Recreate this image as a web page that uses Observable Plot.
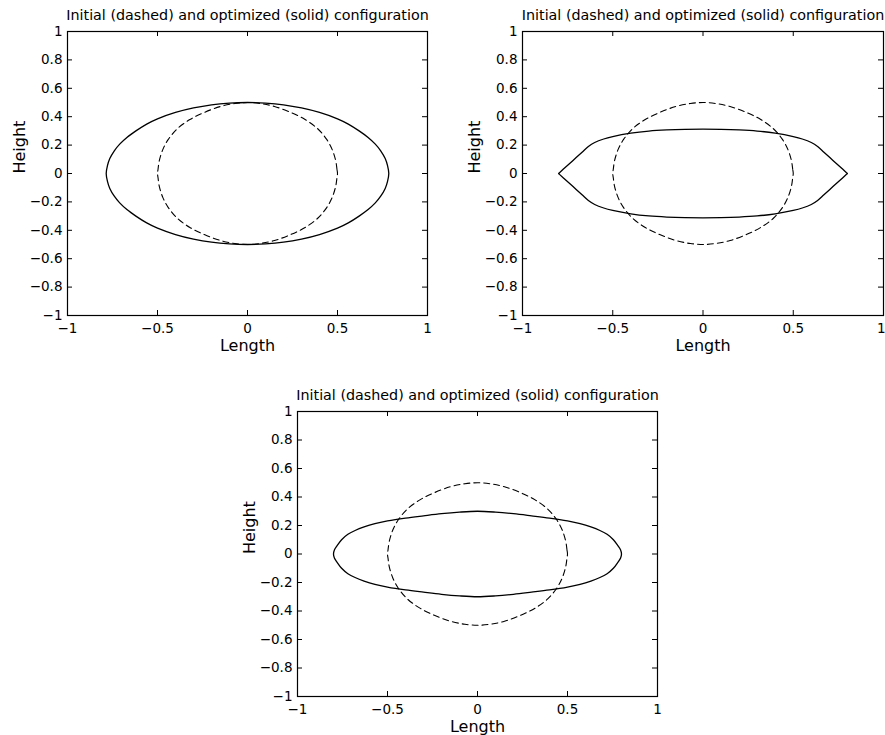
<!DOCTYPE html>
<html>
<head>
<meta charset="utf-8">
<script src="https://cdn.jsdelivr.net/npm/d3@7"></script>
<script src="https://cdn.jsdelivr.net/npm/@observablehq/plot@0.6"></script>
<style>
  html, body { margin: 0; padding: 0; background: white; }
  #wrap { position: relative; width: 885px; height: 735px; overflow: hidden; background: white; }
  .panel { position: absolute; }
  .panel svg { overflow: visible; }
</style>
</head>
<body>
<div id="wrap">
  <div class="panel" id="p1" style="left:0px;top:0px"></div>
  <div class="panel" id="p2" style="left:440px;top:0px"></div>
  <div class="panel" id="p3" style="left:200px;top:375px"></div>
</div>
<script>
const titleText = "Initial (dashed) and optimized (solid) configuration";
const xLabel = "Length";
const yLabel = "Height";
const xTicks = [-1, -0.5, 0, 0.5, 1];
const yTicks = [-1, -0.8, -0.6, -0.4, -0.2, 0, 0.2, 0.4, 0.6, 0.8, 1];

// Initial configuration (dashed), same in all three panels
const dashedX = [0.5, 0.497, 0.49, 0.47, 0.44, 0.39, 0.32, 0.24, 0.15, 0.07, 0,
  -0.07, -0.15, -0.24, -0.32, -0.39, -0.44, -0.47, -0.49, -0.497, -0.5,
  -0.497, -0.49, -0.47, -0.44, -0.39, -0.32, -0.24, -0.15, -0.07, 0,
  0.07, 0.15, 0.24, 0.32, 0.39, 0.44, 0.47, 0.49, 0.497];
const dashedY = [0, 0.03, 0.09, 0.17, 0.24, 0.315, 0.38, 0.43, 0.472, 0.493, 0.5,
  0.493, 0.472, 0.43, 0.38, 0.315, 0.24, 0.17, 0.09, 0.03, 0,
  -0.03, -0.09, -0.17, -0.24, -0.315, -0.38, -0.43, -0.472, -0.493, -0.5,
  -0.493, -0.472, -0.43, -0.38, -0.315, -0.24, -0.17, -0.09, -0.03];

// Optimized configuration, panel 1
const solid1X = [0.785, 0.778, 0.765, 0.74, 0.71, 0.67, 0.62, 0.56, 0.5, 0.4, 0.3, 0.2, 0.1, 0,
  -0.1, -0.2, -0.3, -0.4, -0.5, -0.56, -0.62, -0.67, -0.71, -0.74, -0.765, -0.778, -0.785,
  -0.778, -0.765, -0.74, -0.71, -0.67, -0.62, -0.56, -0.5, -0.4, -0.3, -0.2, -0.1, 0,
  0.1, 0.2, 0.3, 0.4, 0.5, 0.56, 0.62, 0.67, 0.71, 0.74, 0.765, 0.778];
const solid1Y = [0, 0.055, 0.105, 0.16, 0.207, 0.254, 0.30, 0.348, 0.385, 0.43, 0.462, 0.484, 0.496, 0.5,
  0.496, 0.484, 0.462, 0.43, 0.385, 0.348, 0.30, 0.254, 0.207, 0.16, 0.105, 0.055, 0,
  -0.055, -0.105, -0.16, -0.207, -0.254, -0.30, -0.348, -0.385, -0.43, -0.462, -0.484, -0.496, -0.5,
  -0.496, -0.484, -0.462, -0.43, -0.385, -0.348, -0.30, -0.254, -0.207, -0.16, -0.105, -0.055];

// Optimized configuration, panel 2
const solid2X = [0.80, 0.795, 0.77, 0.72, 0.67, 0.635, 0.6, 0.55, 0.5, 0.4, 0.3, 0.2, 0.1, 0,
  -0.1, -0.2, -0.3, -0.4, -0.5, -0.55, -0.6, -0.635, -0.67, -0.72, -0.77, -0.795, -0.80,
  -0.795, -0.77, -0.72, -0.67, -0.635, -0.6, -0.55, -0.5, -0.4, -0.3, -0.2, -0.1, 0,
  0.1, 0.2, 0.3, 0.4, 0.5, 0.55, 0.6, 0.635, 0.67, 0.72, 0.77, 0.795];
const solid2Y = [0, 0.006, 0.035, 0.092, 0.15, 0.19, 0.218, 0.243, 0.26, 0.284, 0.299, 0.307, 0.311, 0.312,
  0.311, 0.307, 0.299, 0.284, 0.26, 0.243, 0.218, 0.19, 0.15, 0.092, 0.035, 0.006, 0,
  -0.006, -0.035, -0.092, -0.15, -0.19, -0.218, -0.243, -0.26, -0.284, -0.299, -0.307, -0.311, -0.312,
  -0.311, -0.307, -0.299, -0.284, -0.26, -0.243, -0.218, -0.19, -0.15, -0.092, -0.035, -0.006];

// Optimized configuration, panel 3
const solid3X = [0.80, 0.795, 0.78, 0.755, 0.72, 0.68, 0.63, 0.57, 0.5, 0.4, 0.3, 0.2, 0.1, 0,
  -0.1, -0.2, -0.3, -0.4, -0.5, -0.57, -0.63, -0.68, -0.72, -0.755, -0.78, -0.795, -0.80,
  -0.795, -0.78, -0.755, -0.72, -0.68, -0.63, -0.57, -0.5, -0.4, -0.3, -0.2, -0.1, 0,
  0.1, 0.2, 0.3, 0.4, 0.5, 0.57, 0.63, 0.68, 0.72, 0.755, 0.78, 0.795];
const solid3Y = [0, 0.028, 0.058, 0.10, 0.138, 0.165, 0.19, 0.213, 0.232, 0.252, 0.268, 0.283, 0.294, 0.30,
  0.294, 0.283, 0.268, 0.252, 0.232, 0.213, 0.19, 0.165, 0.138, 0.10, 0.058, 0.028, 0,
  -0.028, -0.058, -0.10, -0.138, -0.165, -0.19, -0.213, -0.232, -0.252, -0.268, -0.283, -0.294, -0.30,
  -0.294, -0.283, -0.268, -0.252, -0.232, -0.213, -0.19, -0.165, -0.138, -0.10, -0.058, -0.028];

const fmt = d => String(d).replace("-", "\u2212");
const FONT = "'DejaVu Sans', 'Liberation Sans', Arial, sans-serif";

function panel(sx, sy, cfg) {
  const {width, height, ml, mr, mt, mb, endLast} = cfg;
  const ph = height - mt - mb;
  const pw = width - ml - mr;
  const T = 5;
  const xAxes = endLast
    ? [Plot.axisX({ticks: xTicks.slice(0, -1), tickFormat: fmt, tickSize: 0, tickPadding: 8, fontSize: 13.5, label: null}),
       Plot.axisX({ticks: xTicks.slice(-1), tickFormat: fmt, tickSize: 0, tickPadding: 8, fontSize: 13.5, label: null, textAnchor: "end", dx: 2})]
    : [Plot.axisX({ticks: xTicks, tickFormat: fmt, tickSize: 0, tickPadding: 8, fontSize: 13.5, label: null})];
  return Plot.plot({
    width, height,
    marginLeft: ml, marginRight: mr, marginTop: mt, marginBottom: mb,
    style: {fontFamily: FONT, fontSize: "13.5px", color: "black", background: "white", overflow: "visible"},
    x: {domain: [-1, 1]},
    y: {domain: [-1, 1]},
    marks: [
      Plot.line(dashedX, {x: dashedX, y: dashedY, curve: "catmull-rom-closed", stroke: "black", strokeWidth: 1.1, strokeDasharray: "6,4"}),
      Plot.line(sx, {x: sx, y: sy, curve: "catmull-rom-closed", stroke: "black", strokeWidth: 1.3}),
      Plot.tickX(xTicks, {x: d => d, insetTop: ph - T, stroke: "black"}),
      Plot.tickX(xTicks, {x: d => d, insetBottom: ph - T, stroke: "black"}),
      Plot.tickY(yTicks, {y: d => d, insetRight: pw - T, stroke: "black"}),
      Plot.tickY(yTicks, {y: d => d, insetLeft: pw - T, stroke: "black"}),
      Plot.frame({stroke: "black", strokeWidth: 1.2}),
      ...xAxes,
      Plot.axisY({ticks: yTicks, tickFormat: fmt, tickSize: 0, tickPadding: 5, fontSize: 13.5, label: null}),
      Plot.text([xLabel], {frameAnchor: "bottom", dy: 30, fontSize: 16, lineAnchor: "middle", fill: "black"}),
      Plot.text([yLabel], {frameAnchor: "left", dx: -48, rotate: -90, fontSize: 16, lineAnchor: "middle", fill: "black"}),
      Plot.text([titleText], {frameAnchor: "top", dy: -16, fontSize: 14.3, lineAnchor: "middle", fill: "black"})
    ]
  });
}

document.getElementById("p1").appendChild(panel(solid1X, solid1Y, {width: 440, height: 360, ml: 67, mr: 13, mt: 31, mb: 45}));
document.getElementById("p2").appendChild(panel(solid2X, solid2Y, {width: 445, height: 360, ml: 82, mr: 2, mt: 31, mb: 45, endLast: true}));
document.getElementById("p3").appendChild(panel(solid3X, solid3Y, {width: 480, height: 360, ml: 97, mr: 23, mt: 36, mb: 39}));
</script>
</body>
</html>
